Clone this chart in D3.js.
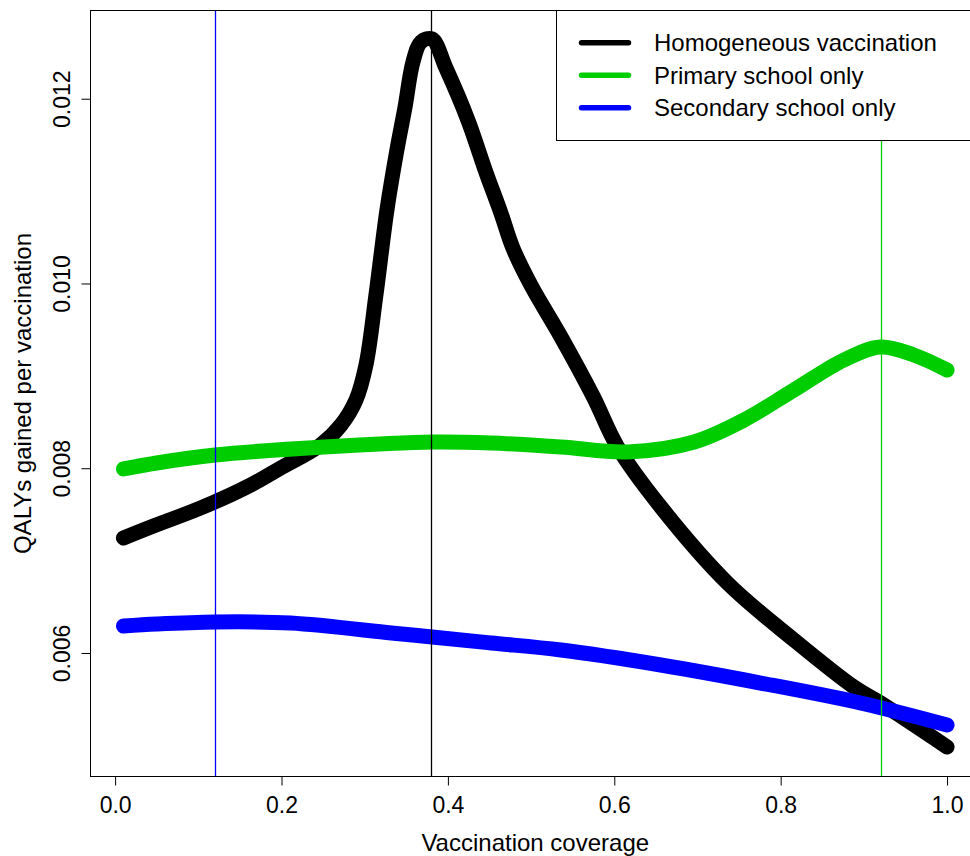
<!DOCTYPE html>
<html>
<head>
<meta charset="utf-8">
<script src="https://cdn.jsdelivr.net/npm/d3@7"></script>
<style>
  html, body { margin: 0; padding: 0; background: #fff; }
  svg { display: block; }
  text { font-family: "Liberation Sans", Arial, sans-serif; fill: #000; }
</style>
</head>
<body>
<svg id="chart" width="970" height="856"></svg>
<script>
// ---- data ----
const seriesNames = ["Homogeneous vaccination", "Primary school only", "Secondary school only"];
const seriesColors = ["#000000", "#00CD00", "#0000FF"];

const homogeneousX = [0.01, 0.043, 0.103, 0.163, 0.199, 0.247, 0.2715, 0.2895, 0.3015, 0.3135, 0.3267, 0.3387, 0.3483, 0.3580, 0.3676, 0.3808, 0.3976, 0.424, 0.4456, 0.4637, 0.4781, 0.4997, 0.536, 0.575, 0.604, 0.656, 0.736, 0.816, 0.888, 0.920, 1.0];
const homogeneousY = [0.007245, 0.007364, 0.007570, 0.007819, 0.008003, 0.008252, 0.008468, 0.008739, 0.009118, 0.009875, 0.010795, 0.011445, 0.011900, 0.012398, 0.012614, 0.012647, 0.012333, 0.011770, 0.011207, 0.010763, 0.010384, 0.009984, 0.009421, 0.008771, 0.008230, 0.007580, 0.006758, 0.006141, 0.005632, 0.005459, 0.004982];

const primaryX = [0.01, 0.05, 0.120, 0.251, 0.382, 0.452, 0.536, 0.616, 0.696, 0.756, 0.816, 0.876, 0.920, 0.960, 1.0];
const primaryY = [0.007992, 0.008057, 0.008143, 0.008230, 0.008284, 0.008273, 0.008230, 0.008176, 0.008284, 0.008522, 0.008847, 0.009172, 0.009312, 0.009226, 0.009063];

const secondaryX = [0.01, 0.05, 0.120, 0.211, 0.332, 0.381, 0.452, 0.536, 0.656, 0.776, 0.896, 1.0];
const secondaryY = [0.006292, 0.006314, 0.006336, 0.006325, 0.006217, 0.006173, 0.006108, 0.006032, 0.005870, 0.005675, 0.005459, 0.005221];

const optimumCoverage = [0.38, 0.92, 0.12]; // vertical marker lines: homogeneous, primary, secondary

const xTicks = [0.0, 0.2, 0.4, 0.6, 0.8, 1.0];
const yTicks = [0.006, 0.008, 0.010, 0.012];
const xLabel = "Vaccination coverage";
const yLabel = "QALYs gained per vaccination";

// ---- layout ----
const svg = d3.select("#chart");
const plotLeft = 90.5, plotTop = 10.5, plotBottom = 776.5, plotRight = 980;
const tickFont = 23, titleFont = 24;

const xs = [homogeneousX, primaryX, secondaryX];
const ys = [homogeneousY, primaryY, secondaryY];
const allX = xs.flat();
const xMin = d3.min(allX), xMax = d3.max(allX);
const xPad = (xMax - xMin) * 0.04;
const x = d3.scaleLinear().domain([xMin - xPad, xMax + xPad]).range([plotLeft, plotRight]);
const y = d3.scaleLinear().domain([0.004663, 0.012955]).range([plotBottom, plotTop]);

const line = d3.line().x(d => x(d[0])).y(d => y(d[1])).curve(d3.curveCatmullRom.alpha(0.5));

// curves
[0, 1, 2].forEach(i => {
  const pts = xs[i].map((v, k) => [v, ys[i][k]]);
  svg.append("path")
    .attr("d", line(pts))
    .attr("fill", "none")
    .attr("stroke", seriesColors[i])
    .attr("stroke-width", 15)
    .attr("stroke-linecap", "round")
    .attr("stroke-linejoin", "round");
});

// vertical marker lines
optimumCoverage.forEach((c, i) => {
  const px = Math.round(x(c)) + 0.5;
  svg.append("line")
    .attr("x1", px).attr("x2", px)
    .attr("y1", plotTop).attr("y2", plotBottom)
    .style("stroke", seriesColors[i])
    .attr("stroke-width", 1.3);
});

// plot box
svg.append("rect")
  .attr("x", plotLeft).attr("y", plotTop)
  .attr("width", plotRight - plotLeft).attr("height", plotBottom - plotTop)
  .attr("fill", "none").attr("stroke", "#000").attr("stroke-width", 1);

// x axis
const xAxis = d3.axisBottom(x).tickValues(xTicks).tickSize(9).tickPadding(0).tickFormat(d3.format(".1f"));
const gx = svg.append("g").attr("transform", `translate(0,${plotBottom})`).call(xAxis);
gx.select(".domain").remove();
gx.selectAll(".tick line").attr("stroke", "#000");
gx.selectAll(".tick text").attr("font-size", tickFont).attr("font-family", "Liberation Sans, Arial, sans-serif")
  .attr("dy", null).attr("y", 36);

// y axis
const yAxis = d3.axisLeft(y).tickValues(yTicks).tickSize(9).tickFormat(d3.format(".3f"));
const gy = svg.append("g").attr("transform", `translate(${plotLeft},0)`).call(yAxis);
gy.select(".domain").remove();
gy.selectAll(".tick line").attr("stroke", "#000");
gy.selectAll(".tick text")
  .attr("font-size", tickFont).attr("font-family", "Liberation Sans, Arial, sans-serif")
  .attr("x", null).attr("dy", null)
  .attr("text-anchor", "middle")
  .attr("transform", `translate(${70 - plotLeft},0) rotate(-90)`);

// axis titles
svg.append("text")
  .attr("x", (plotLeft + plotRight) / 2).attr("y", 851)
  .attr("text-anchor", "middle").attr("font-size", titleFont)
  .text(xLabel);
svg.append("text")
  .attr("transform", `translate(31,${(plotTop + plotBottom) / 2}) rotate(-90)`)
  .attr("text-anchor", "middle").attr("font-size", titleFont)
  .text(yLabel);

// legend
const legend = svg.append("g");
legend.append("rect")
  .attr("x", 556.5).attr("y", plotTop)
  .attr("width", plotRight - 556.5).attr("height", 140.5 - plotTop)
  .attr("fill", "#fff").attr("stroke", "#000").attr("stroke-width", 1);
const legendY = [42.7, 75.3, 107.7];
seriesNames.forEach((name, i) => {
  legend.append("line")
    .attr("x1", 581.5).attr("x2", 628.5)
    .attr("y1", legendY[i]).attr("y2", legendY[i])
    .attr("stroke", seriesColors[i]).attr("stroke-width", 5.5)
    .attr("stroke-linecap", "round");
  legend.append("text")
    .attr("x", 654).attr("y", legendY[i] + 8.5)
    .attr("font-size", titleFont)
    .text(name);
});
</script>
</body>
</html>
